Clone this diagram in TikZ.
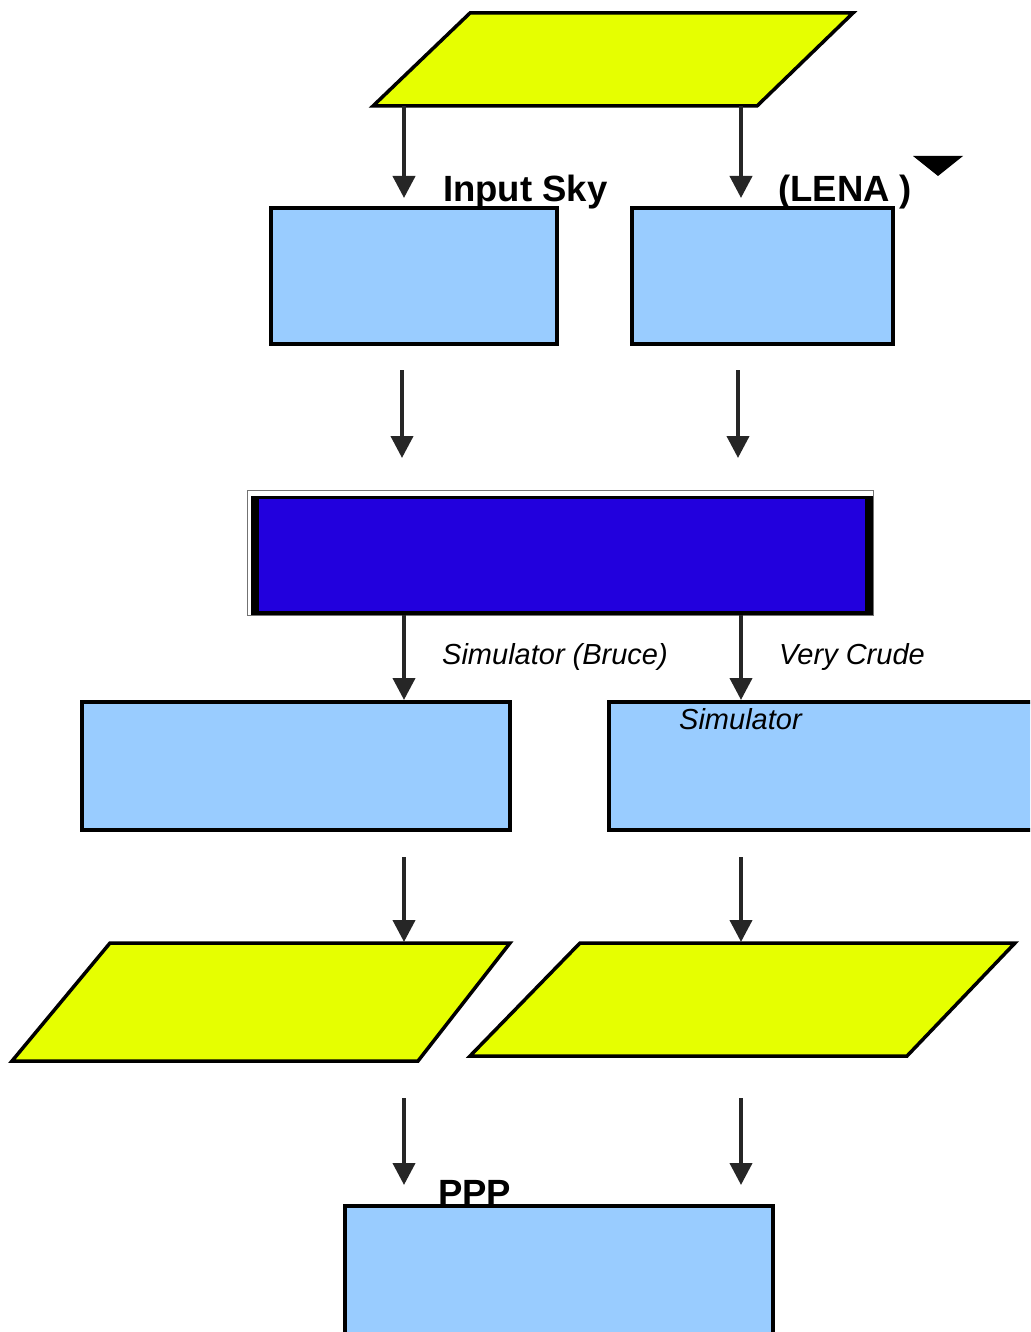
\documentclass[tikz,border=0pt]{standalone}
\usepackage{fontspec}
\setmainfont{Liberation Sans}
\usetikzlibrary{arrows.meta}
\definecolor{dataYellow}{RGB}{230,255,0}
\definecolor{procBlue}{RGB}{153,204,255}
\definecolor{coreBlue}{RGB}{34,0,221}

\begin{document}
\begin{tikzpicture}[x=1pt,y=-1pt,
  flow/.style={line width=4pt, draw=black!85, -{Triangle[width=22pt,length=22pt]}},
  databox/.style={fill=dataYellow, draw=black, line width=3.5pt, line join=miter},
  procbox/.style={rectangle, fill=procBlue, draw=black, line width=3.5pt, inner sep=0pt},
  boldlbl/.style={font=\fontsize{36.5}{40}\selectfont\bfseries, inner sep=0pt, anchor=base west},
  itlbl/.style={font=\fontsize{29}{33}\selectfont\itshape, inner sep=0pt, anchor=base west}]
\useasboundingbox (0,0) rectangle (1030,1332);
\clip (0,0) rectangle (1030,1332);

% input data
\draw[databox] (373,106) -- (470,13) -- (853,13) -- (757,106) -- cycle;
\coordinate (skyL) at (404,106);
\coordinate (skyR) at (741,106);

% first processing stage
\node[procbox, minimum width=286pt, minimum height=136pt] (inL) at (414,276) {};
\node[procbox, minimum width=261pt, minimum height=136pt] (inR) at (762.5,276) {};
\coordinate (inLtop) at (404,198);
\coordinate (inRtop) at (741,198);
\coordinate (inLout) at (402,370);
\coordinate (inRout) at (738,370);

% core block
\draw[black!55, line width=1pt, fill=white] (247,490) rectangle (873,615);
\fill[black] (251,496) rectangle (873,615);
\fill[coreBlue] (259,499) rectangle (865,611);
\coordinate (coreL) at (402,458);
\coordinate (coreR) at (738,458);
\coordinate (coreLout) at (404,615);
\coordinate (coreRout) at (741,615);

% simulators
\node[procbox, minimum width=428pt, minimum height=128pt] (simL) at (296,766) {};
\node[procbox, minimum width=451pt, minimum height=128pt] (simR) at (834.5,766) {};
\coordinate (simLtop) at (404,700);
\coordinate (simRtop) at (741,700);
\coordinate (simLout) at (404,857);
\coordinate (simRout) at (741,857);

% simulated data
\draw[databox] (12,1061) -- (110,943) -- (510,943) -- (418,1061) -- cycle;
\draw[databox] (470,1056) -- (580,943) -- (1015,943) -- (907,1056) -- cycle;
\coordinate (datLtop) at (404,942);
\coordinate (datRtop) at (741,942);
\coordinate (datLout) at (404,1098);
\coordinate (datRout) at (741,1098);

% final stage
\node[procbox, minimum width=428pt, minimum height=150pt] (ppp) at (559,1281) {};
\coordinate (pppL) at (404,1185);
\coordinate (pppR) at (741,1185);

% connectors
\draw[flow] (skyL) -- (inLtop);
\draw[flow] (skyR) -- (inRtop);
\draw[flow] (inLout) -- (coreL);
\draw[flow] (inRout) -- (coreR);
\draw[flow] (coreLout) -- (simLtop);
\draw[flow] (coreRout) -- (simRtop);
\draw[flow] (simLout) -- (datLtop);
\draw[flow] (simRout) -- (datRtop);
\draw[flow] (datLout) -- (pppL);
\draw[flow] (datRout) -- (pppR);

% labels
\node[boldlbl] (lblSky) at (443,202) {Input Sky};
\node[boldlbl] (lblLena) at (778,202) {(LENA )};
\fill[black] (913,156) -- (963,156) -- (938,176) -- cycle;
\node[itlbl] (lblBruce) at (442,664) {Simulator (Bruce)};
\node[itlbl] (lblCrude) at (779,664) {Very Crude};
\node[itlbl] (lblSim) at (679,729) {Simulator};
\node[boldlbl] (lblPPP) at (438,1205) {PPP};
\end{tikzpicture}
\end{document}
